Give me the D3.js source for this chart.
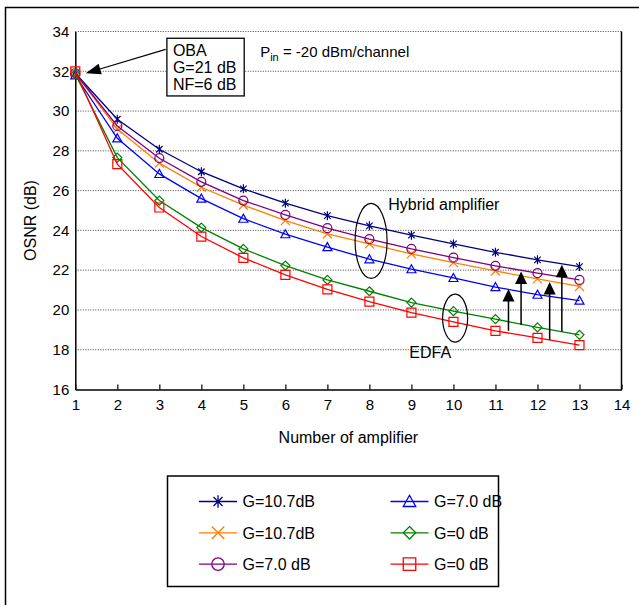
<!DOCTYPE html>
<html>
<head>
<meta charset="utf-8">
<script src="https://cdn.jsdelivr.net/npm/d3@7"></script>
<style>
  body { margin: 0; background: #fff; }
  text { font-family: Arial, "Liberation Sans", sans-serif; fill: #000; }
</style>
</head>
<body>
<svg width="639" height="605"></svg>
<script>
// data
var amplifiers = [1, 2, 3, 4, 5, 6, 7, 8, 9, 10, 11, 12, 13];
var hybridStar   = [31.9, 29.59, 28.08, 26.95, 26.09, 25.37, 24.74, 24.23, 23.76, 23.32, 22.90, 22.52, 22.18];
var hybridCross  = [31.9, 29.10, 27.38, 26.17, 25.27, 24.49, 23.82, 23.32, 22.82, 22.38, 21.96, 21.56, 21.18];
var hybridCircle = [31.9, 29.25, 27.63, 26.44, 25.50, 24.78, 24.11, 23.56, 23.07, 22.63, 22.22, 21.85, 21.51];
var edfaTriangle = [31.8, 28.63, 26.84, 25.60, 24.59, 23.81, 23.16, 22.55, 22.05, 21.61, 21.15, 20.77, 20.47];
var edfaDiamond  = [31.85, 27.66, 25.50, 24.14, 23.07, 22.23, 21.51, 20.94, 20.37, 19.94, 19.54, 19.12, 18.75];
var edfaSquare   = [32.0, 27.33, 25.15, 23.69, 22.62, 21.76, 21.03, 20.42, 19.87, 19.40, 18.95, 18.60, 18.23];
var seriesNames  = ["G=10.7dB", "G=10.7dB", "G=7.0 dB", "G=7.0 dB", "G=0 dB", "G=0 dB"];
var xTicks = [1, 2, 3, 4, 5, 6, 7, 8, 9, 10, 11, 12, 13, 14];
var yTicks = [16, 18, 20, 22, 24, 26, 28, 30, 32, 34];

var series = [
  {name: seriesNames[0], values: hybridStar,   color: "#000080", shape: "star"},
  {name: seriesNames[1], values: hybridCross,  color: "#FF7F00", shape: "cross"},
  {name: seriesNames[2], values: hybridCircle, color: "#800080", shape: "circle"},
  {name: seriesNames[3], values: edfaTriangle, color: "#0000FF", shape: "triangle"},
  {name: seriesNames[4], values: edfaDiamond,  color: "#008000", shape: "diamond"},
  {name: seriesNames[5], values: edfaSquare,   color: "#FF0000", shape: "square"}
];

// vertical arrows: [x, from, to]
var gainArrows = [[11.31, 18.95, 21.05], [11.61, 19.25, 21.93], [12.29, 18.5, 21.4], [12.58, 18.91, 22.27]];

var svg = d3.select("svg"),
    margin = {top: 31.5, right: 17.5, bottom: 215.5, left: 75.3},
    width = +svg.attr("width") - margin.left - margin.right,
    height = +svg.attr("height") - margin.top - margin.bottom;

var x = d3.scaleLinear().domain([1, 14]).range([0, width]),
    y = d3.scaleLinear().domain([16, 34]).range([height, 0]);

// outer figure frame (only top & left visible)
svg.append("path")
    .attr("d", "M5.5,605V7.5H639")
    .attr("fill", "none")
    .attr("stroke", "#000")
    .attr("stroke-width", 1.5);

var g = svg.append("g")
    .attr("transform", "translate(" + margin.left + "," + margin.top + ")");

// dotted grid
g.selectAll(".grid")
    .data(yTicks.filter(function(d) { return d > 16; }))
  .enter().append("line")
    .attr("x1", 0).attr("x2", width)
    .attr("y1", function(d) { return y(d); })
    .attr("y2", function(d) { return y(d); })
    .attr("stroke", "#444")
    .attr("stroke-width", 1)
    .attr("stroke-dasharray", "1,1.5");

// axes
var xAxis = d3.axisBottom(x).tickValues(xTicks).tickSizeInner(-5).tickSizeOuter(0).tickPadding(10);
var yAxis = d3.axisLeft(y).tickValues(yTicks).tickSizeInner(0).tickSizeOuter(0).tickPadding(6);

var gx = g.append("g")
    .attr("transform", "translate(0," + height + ")")
    .call(xAxis);
var gy = g.append("g").call(yAxis);

[gx, gy].forEach(function(a) {
  a.selectAll("text").style("font-size", "15px").attr("font-family", null);
  a.select(".domain").attr("stroke-width", 1.5);
  a.selectAll(".tick line").attr("stroke-width", 1.2);
});
gx.selectAll("text").attr("dy", "0.71em");

// right border
g.append("line")
    .attr("x1", width).attr("x2", width)
    .attr("y1", 0).attr("y2", height)
    .attr("stroke", "#000").attr("stroke-width", 1.5);

// axis titles
g.append("text")
    .attr("text-anchor", "middle")
    .attr("x", width / 2)
    .attr("y", height + 53)
    .style("font-size", "16px")
    .text("Number of amplifier");

g.append("text")
    .attr("text-anchor", "middle")
    .attr("transform", "translate(" + (-39) + "," + (height / 2 + 10) + ")rotate(-90)")
    .style("font-size", "16px")
    .text("OSNR (dB)");

// marker shapes
function markerPath(shape, s) {
  var h = s / 2;
  switch (shape) {
    case "star":
      var d = h * 0.72;
      return "M0," + (-h) + "V" + h + "M" + (-d) + "," + (-d) + "L" + d + "," + d + "M" + (-d) + "," + d + "L" + d + "," + (-d);
    case "cross":
      return "M" + (-h) + "," + (-h) + "L" + h + "," + h + "M" + (-h) + "," + h + "L" + h + "," + (-h);
    case "circle":
      return "M" + h + ",0A" + h + "," + h + " 0 1,1 " + (-h) + ",0A" + h + "," + h + " 0 1,1 " + h + ",0Z";
    case "triangle":
      return "M0," + (-h) + "L" + h + "," + (h * 0.8) + "H" + (-h) + "Z";
    case "diamond":
      return "M0," + (-h) + "L" + h + ",0L0," + h + "L" + (-h) + ",0Z";
    case "square":
      return "M" + (-h) + "," + (-h) + "H" + h + "V" + h + "H" + (-h) + "Z";
  }
}

var line = d3.line()
    .x(function(d, i) { return x(amplifiers[i]); })
    .y(function(d) { return y(d); });

var sg = g.selectAll(".series")
    .data(series)
  .enter().append("g")
    .attr("class", "series");

sg.append("path")
    .attr("d", function(s) { return line(s.values); })
    .attr("fill", "none")
    .attr("stroke", function(s) { return s.color; })
    .attr("stroke-width", 1.3);

sg.each(function(s) {
  d3.select(this).selectAll(".pt")
      .data(s.values)
    .enter().append("path")
      .attr("transform", function(d, i) { return "translate(" + x(amplifiers[i]) + "," + y(d) + ")"; })
      .attr("d", markerPath(s.shape, 9))
      .attr("fill", "none")
      .attr("stroke", s.color)
      .attr("stroke-width", 1.2);
});

// annotations
function arrowHead(x0, y0, x1, y1, len, wid) {
  var a = Math.atan2(y1 - y0, x1 - x0),
      bx = x1 - len * Math.cos(a), by = y1 - len * Math.sin(a),
      px = -Math.sin(a) * wid / 2, py = Math.cos(a) * wid / 2;
  return "M" + x1 + "," + y1 + "L" + (bx + px) + "," + (by + py) + "L" + (bx - px) + "," + (by - py) + "Z";
}

gainArrows.forEach(function(a) {
  var ax = x(a[0]), y0 = y(a[1]), y1 = y(a[2]);
  g.append("line")
      .attr("x1", ax).attr("x2", ax)
      .attr("y1", y0).attr("y2", y1 + 10)
      .attr("stroke", "#000").attr("stroke-width", 1.5);
  g.append("path")
      .attr("d", arrowHead(ax, y0, ax, y1, 12.5, 12))
      .attr("fill", "#000");
});

// OBA box and arrow
var obaX0 = x(3.18), obaY0 = y(33.66), obaX1 = x(5.02), obaY1 = y(30.76);
g.append("rect")
    .attr("x", obaX0).attr("y", obaY0)
    .attr("width", obaX1 - obaX0).attr("height", obaY1 - obaY0)
    .attr("fill", "#fff").attr("stroke", "#000").attr("stroke-width", 1.3);
["OBA", "G=21 dB", "NF=6 dB"].forEach(function(t, i) {
  g.append("text")
      .attr("x", obaX0 + 6)
      .attr("y", obaY0 + 18 + i * 17)
      .style("font-size", "16px")
      .text(t);
});
var tipX = x(1.25), tipY = y(31.9), fromX = x(3.15), fromY = y(33.1);
g.append("line")
    .attr("x1", fromX).attr("y1", fromY)
    .attr("x2", tipX + 10).attr("y2", tipY - 3)
    .attr("stroke", "#000").attr("stroke-width", 1.2);
g.append("path")
    .attr("d", arrowHead(fromX, fromY, tipX, tipY, 15, 11))
    .attr("fill", "#000");

// P_in label
var pin = g.append("text")
    .attr("x", x(5.4)).attr("y", y(32.73))
    .style("font-size", "15px");
pin.append("tspan").text("P");
pin.append("tspan").attr("dy", 4).style("font-size", "11px").text("in");
pin.append("tspan").attr("dy", -4).text(" = -20 dBm/channel");

// ellipses and labels
g.append("ellipse")
    .attr("cx", x(8.04)).attr("cy", y(23.47))
    .attr("rx", 16).attr("ry", 37.5)
    .attr("fill", "none").attr("stroke", "#000").attr("stroke-width", 1.2);
g.append("ellipse")
    .attr("cx", x(10.04)).attr("cy", y(19.59))
    .attr("rx", 12.5).attr("ry", 24)
    .attr("fill", "none").attr("stroke", "#000").attr("stroke-width", 1.2);
g.append("text")
    .attr("x", x(8.45)).attr("y", y(25.03))
    .style("font-size", "16px")
    .text("Hybrid amplifier");
g.append("text")
    .attr("x", x(8.95)).attr("y", y(17.59))
    .style("font-size", "16px")
    .text("EDFA");

// legend
var legend = svg.append("g").attr("transform", "translate(167.5,476)");
legend.append("rect")
    .attr("width", 331).attr("height", 110.5)
    .attr("fill", "#fff").attr("stroke", "#000").attr("stroke-width", 1.5);

var li = legend.selectAll(".li")
    .data(series)
  .enter().append("g")
    .attr("transform", function(d, i) {
      return "translate(" + (i < 3 ? 31.5 : 223) + "," + (25.5 + (i % 3) * 31.3) + ")";
    });
li.append("line")
    .attr("x1", 0).attr("x2", 38)
    .attr("stroke", function(d) { return d.color; })
    .attr("stroke-width", 1.3);
li.append("path")
    .attr("transform", "translate(19,0)")
    .attr("d", function(d) { return markerPath(d.shape, 12.5); })
    .attr("fill", "none")
    .attr("stroke", function(d) { return d.color; })
    .attr("stroke-width", 1.3);
li.append("text")
    .attr("x", 43.5)
    .attr("dy", "0.36em")
    .style("font-size", "16px")
    .text(function(d) { return d.name; });
</script>
</body>
</html>
